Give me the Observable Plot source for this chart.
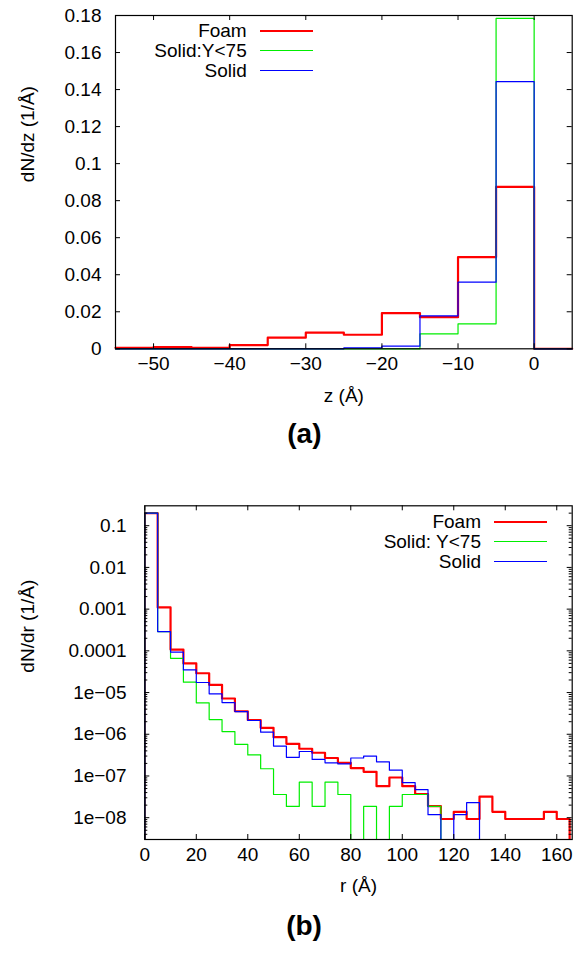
<!DOCTYPE html>
<html><head><meta charset="utf-8">
<script src="https://cdn.jsdelivr.net/npm/d3@7"></script>
<script src="https://cdn.jsdelivr.net/npm/@observablehq/plot@0.6"></script>
<style>
body{margin:0;background:#fff;}
#wrap{position:relative;width:581px;height:954px;font-family:"Liberation Sans",Arial,sans-serif;color:#000;}
#wrap svg{position:absolute;left:0;}
.lg{position:absolute;font-size:19px;line-height:20px;white-space:nowrap;text-align:right;}
.ls{position:absolute;}
</style>
</head><body><div id="wrap"></div>
<script>
// ---------- Panel (a): dN/dz vs z ----------
const zBinStart = [-55,-50,-45,-40,-35,-30,-25,-20,-15,-10,-5,0];
const zBinWidth = 5;
const foamZ     = [0.0005,0.0009,0.0005,0.002,0.006,0.0087,0.0076,0.0193,0.0171,0.0495,0.0875,0];
const solidY75Z = [0,0,0,0,0,0,0,0,0.0081,0.0135,0.1784,0];
const solidZ    = [0,0,0,0,0,0,0.0005,0.0014,0.0178,0.036,0.1443,0];
const zTicks = [-50,-40,-30,-20,-10,0];
const zTickLabels = ["\u221250","\u221240","\u221230","\u221220","\u221210","0"];
const dzTicks = [0,0.02,0.04,0.06,0.08,0.1,0.12,0.14,0.16,0.18];
const dzTickLabels = ["0","0.02","0.04","0.06","0.08","0.1","0.12","0.14","0.16","0.18"];
const legendA = ["Foam","Solid:Y<75","Solid"];

// ---------- Panel (b): dN/dr vs r ----------
const rBinStart = [0,5,10,15,20,25,30,35,40,45,50,55,60,65,70,75,80,85,90,95,100,105,110,115,120,125,130,135,140,145,150,155,160];
const rBinWidth = 5;
const foamR = [0.2,0.0011,1.07e-4,5.0e-5,2.9e-5,1.53e-5,7.2e-6,3.56e-6,2.2e-6,1.43e-6,8.5e-7,5.9e-7,4.5e-7,3.6e-7,2.7e-7,2.07e-7,1.55e-7,1.26e-7,5.7e-8,9.2e-8,5.7e-8,3.7e-8,1.9e-8,9.3e-9,1.38e-8,9.3e-9,3.2e-8,1.38e-8,9.3e-9,9.3e-9,9.3e-9,1.38e-8,9.3e-9];
const solidY75R = [0.2,2.9e-4,6.6e-5,1.77e-5,5.66e-6,2.25e-6,1.16e-6,5.7e-7,3.2e-7,1.49e-7,3.6e-8,1.86e-8,7.1e-8,1.86e-8,7.1e-8,3.6e-8,0,1.86e-8,0,1.86e-8,3.6e-8,3.6e-8,1.86e-8,0,0,0,0,0,0,0,0,0,0];
const solidR = [0.2,2.9e-4,9.3e-5,3.49e-5,1.74e-5,9.3e-6,5.75e-6,3.5e-6,2.14e-6,1.12e-6,5.2e-7,2.8e-7,3.86e-7,2.5e-7,2.07e-7,1.95e-7,2.7e-7,3.0e-7,2.19e-7,1.38e-7,6.9e-8,4.7e-8,1.18e-8,0,1.18e-8,2.29e-8,0,0,0,0,0,0,0];
const rTicks = [0,20,40,60,80,100,120,140,160];
const rTickLabels = ["0","20","40","60","80","100","120","140","160"];
const drTicks = [0.1,0.01,0.001,0.0001,1e-5,1e-6,1e-7,1e-8];
const drTickLabels = ["0.1","0.01","0.001","0.0001","1e\u221205","1e\u221206","1e\u221207","1e\u221208"];
const legendB = ["Foam","Solid: Y<75","Solid"];

const colors = ["#ff0000","#00ee00","#0000ff"];
const widths = [2.2,1.2,1.2];
const FONT = '"Liberation Sans", Arial, sans-serif';
const W = 581;

function steps(starts, vals, w, floor, leadIn, tail) {
  const pts = [];
  if (leadIn) pts.push({x: starts[0], y: floor});
  starts.forEach((s, i) => {
    const v = vals[i] > 0 ? vals[i] : floor;
    pts.push({x: s, y: v});
    pts.push({x: s + w, y: v});
  });
  if (tail) pts.push({x: starts[starts.length - 1] + w, y: floor});
  return pts;
}

const wrap = document.getElementById("wrap");

// ---- chart A ----
const aH = 480, aMT = 15, aMB = aH - 348.3, aML = 115, aMR = 9.3;
const aPW = W - aML - aMR, aPH = aH - aMT - aMB;
const seriesA = [foamZ, solidY75Z, solidZ];
const chartA = Plot.plot({
  width: W, height: aH,
  marginLeft: aML, marginRight: aMR, marginTop: aMT, marginBottom: aMB,
  x: {domain: [-55, 5], axis: null},
  y: {domain: [0, 0.18], axis: null},
  style: {fontFamily: FONT, fontSize: "19px", color: "#000", background: "transparent", overflow: "visible"},
  marks: [
    ...seriesA.map((s, i) => Plot.line(steps(zBinStart, s, zBinWidth, 0, false, false),
      {x: "x", y: "y", stroke: colors[i], strokeWidth: widths[i], curve: "linear"})),
    Plot.tickX(zTicks, {x: d => d, insetTop: aPH - 5, stroke: "#000"}),
    Plot.tickX(zTicks, {x: d => d, insetBottom: aPH - 5, stroke: "#000"}),
    Plot.tickY(dzTicks, {y: d => d, insetRight: aPW - 5, stroke: "#000"}),
    Plot.tickY(dzTicks, {y: d => d, insetLeft: aPW - 5, stroke: "#000"}),
    Plot.text(zTicks, {x: d => d, text: (d, i) => zTickLabels[i], frameAnchor: "bottom", dy: 21.5}),
    Plot.text(dzTicks, {y: d => d, text: (d, i) => dzTickLabels[i], frameAnchor: "left", textAnchor: "end", dx: -14}),
    Plot.text(["z (\u00c5)"], {text: d => d, frameAnchor: "bottom", dy: 53.5}),
    Plot.text(["dN/dz (1/\u00c5)"], {text: d => d, frameAnchor: "left", rotate: -90, dx: -88}),
    Plot.text(["(a)"], {text: d => d, frameAnchor: "bottom", dx: -39.5, dy: 94, fontWeight: "bold", fontSize: 28}),
    Plot.frame({stroke: "#000", strokeWidth: 1.2})
  ]
});
chartA.style.top = "0px";
wrap.appendChild(chartA);

// ---- chart B ----
const bTop = 480, bH = 474, bMT = 505.3 - bTop, bMB = bTop + bH - 839, bML = 144.3, bMR = 9.3;
const bPW = W - bML - bMR, bPH = bH - bMT - bMB;
const FLOOR = 1e-12;
const minorTicks = [];
for (let e = -9; e <= -1; e++) for (let k = 2; k <= 9; k++) {
  const v = k * Math.pow(10, e);
  if (v > 3e-9 && v < 0.3) minorTicks.push(v);
}
const seriesB = [foamR, solidY75R, solidR];
const chartB = Plot.plot({
  width: W, height: bH,
  marginLeft: bML, marginRight: bMR, marginTop: bMT, marginBottom: bMB,
  x: {domain: [0, 166], axis: null},
  y: {type: "log", domain: [3e-9, 0.3], axis: null},
  style: {fontFamily: FONT, fontSize: "19px", color: "#000", background: "transparent", overflow: "visible"},
  marks: [
    ...seriesB.map((s, i) => Plot.line(steps(rBinStart, s, rBinWidth, FLOOR, true, true),
      {x: "x", y: "y", stroke: colors[i], strokeWidth: widths[i], curve: "linear", clip: true})),
    Plot.tickX(rTicks, {x: d => d, insetTop: bPH - 5, stroke: "#000"}),
    Plot.tickX(rTicks, {x: d => d, insetBottom: bPH - 5, stroke: "#000"}),
    Plot.tickY(drTicks, {y: d => d, insetRight: bPW - 5, stroke: "#000"}),
    Plot.tickY(drTicks, {y: d => d, insetLeft: bPW - 5, stroke: "#000"}),
    Plot.tickY(minorTicks, {y: d => d, insetRight: bPW - 3, stroke: "#000"}),
    Plot.tickY(minorTicks, {y: d => d, insetLeft: bPW - 3, stroke: "#000"}),
    Plot.text(rTicks, {x: d => d, text: (d, i) => rTickLabels[i], frameAnchor: "bottom", dy: 21}),
    Plot.text(drTicks, {y: d => d, text: (d, i) => drTickLabels[i], frameAnchor: "left", textAnchor: "end", dx: -18.3}),
    Plot.text(["r (\u00c5)"], {text: d => d, frameAnchor: "bottom", dy: 52}),
    Plot.text(["dN/dr (1/\u00c5)"], {text: d => d, frameAnchor: "left", rotate: -90, dx: -117.3}),
    Plot.text(["(b)"], {text: d => d, frameAnchor: "bottom", dx: -54.5, dy: 95, fontWeight: "bold", fontSize: 28}),
    Plot.frame({stroke: "#000", strokeWidth: 1.2})
  ]
});
chartB.style.top = bTop + "px";
wrap.appendChild(chartB);

// ---- legends ----
function legend(labels, textRight, rows, x1, x2) {
  labels.forEach((t, i) => {
    const d = document.createElement("div");
    d.className = "lg";
    d.textContent = t;
    d.style.right = (W - textRight) + "px";
    d.style.top = (rows[i] - 10) + "px";
    wrap.appendChild(d);
    const l = document.createElement("div");
    l.className = "ls";
    l.style.left = x1 + "px";
    l.style.width = (x2 - x1) + "px";
    l.style.height = widths[i] + "px";
    l.style.top = (rows[i] - widths[i] / 2) + "px";
    l.style.background = colors[i];
    wrap.appendChild(l);
  });
}
legend(legendA, 246.7, [30.7, 50.7, 70.7], 260, 312.7);
legend(legendB, 481, [521.7, 541.7, 561.7], 494, 547);
</script>
</body></html>
